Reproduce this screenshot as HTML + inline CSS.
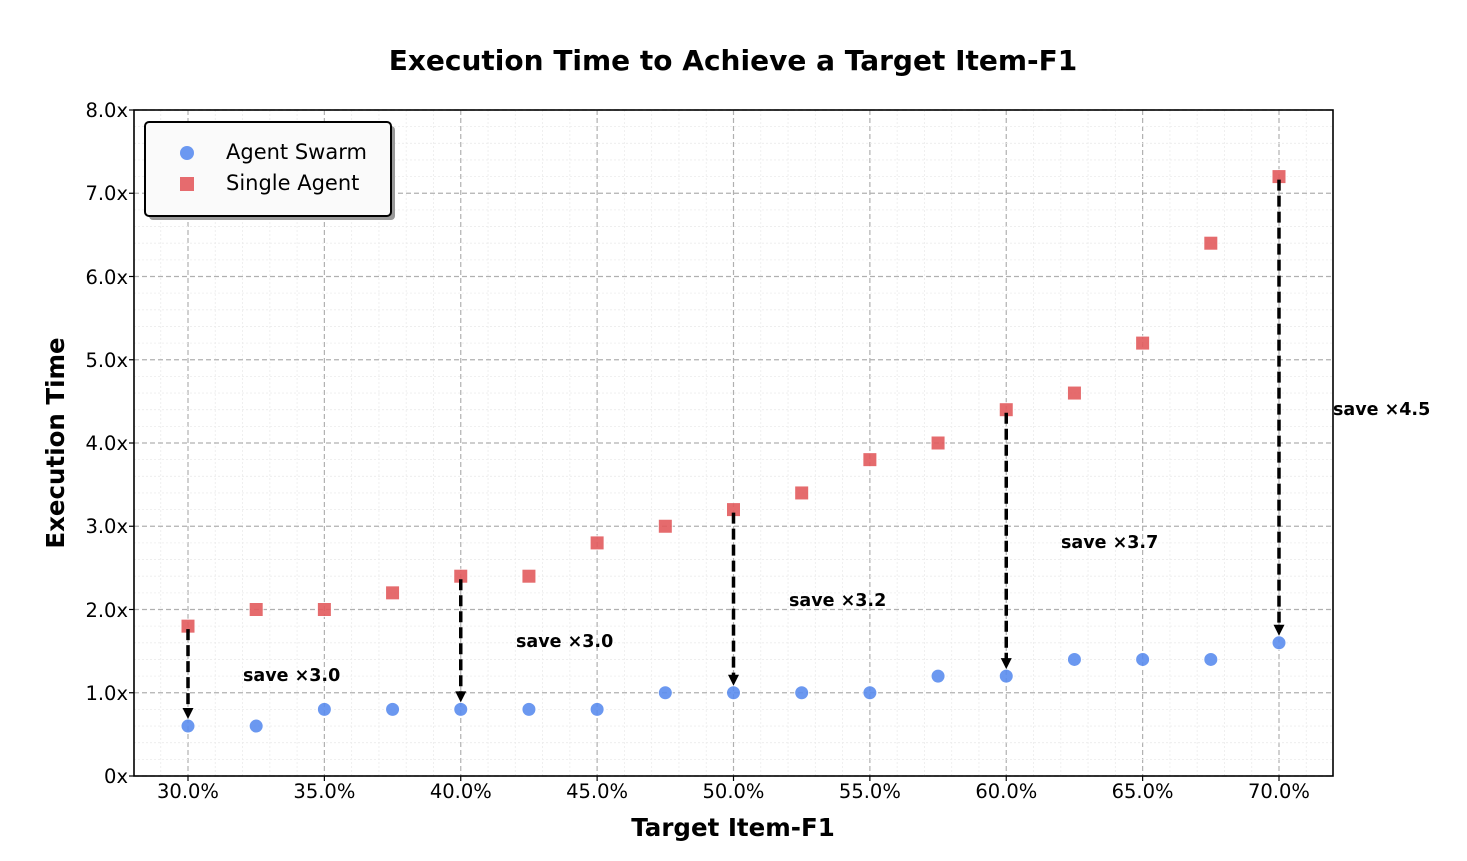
<!DOCTYPE html>
<html><head><meta charset="utf-8"><style>
html,body{margin:0;padding:0;background:#fff;}
svg{display:block;font-family:"DejaVu Sans","Liberation Sans",sans-serif;}
</style></head><body>
<svg id="s" width="1467" height="861" xmlns="http://www.w3.org/2000/svg">
<rect width="1467" height="861" fill="#fff"/>
<g id="grid"></g>
<g id="pts"></g>
<g id="arr"></g>
<rect x="134" y="110" width="1199" height="666" fill="none" stroke="#000" stroke-width="1.6"/>
<g id="ticks"></g>
<text x="733" y="70" text-anchor="middle" font-size="28" font-weight="bold">Execution Time to Achieve a Target Item-F1</text>
<text x="733" y="836" text-anchor="middle" font-size="24.5" font-weight="bold">Target Item-F1</text>
<text transform="translate(64,443) rotate(-90)" text-anchor="middle" font-size="24.5" font-weight="bold">Execution Time</text>
<g font-size="19.5" text-anchor="middle">
<text x="188" y="798">30.0%</text><text x="324.4" y="798">35.0%</text><text x="460.8" y="798">40.0%</text><text x="597.1" y="798">45.0%</text><text x="733.5" y="798">50.0%</text><text x="869.9" y="798">55.0%</text><text x="1006.3" y="798">60.0%</text><text x="1142.6" y="798">65.0%</text><text x="1279" y="798">70.0%</text>
</g>
<g font-size="19.5" text-anchor="end">
<text x="128" y="783">0x</text><text x="128" y="700">1.0x</text><text x="128" y="617">2.0x</text><text x="128" y="533">3.0x</text><text x="128" y="450">4.0x</text><text x="128" y="367">5.0x</text><text x="128" y="284">6.0x</text><text x="128" y="200">7.0x</text><text x="128" y="117">8.0x</text>
</g>
<g font-size="17.5" font-weight="bold">
<text x="243" y="681">save ×3.0</text>
<text x="516" y="647">save ×3.0</text>
<text x="789" y="606">save ×3.2</text>
<text x="1061" y="548">save ×3.7</text>
<text x="1333" y="415">save ×4.5</text>
</g>
<rect x="149" y="126" width="246" height="94" rx="4" fill="#999"/>
<rect x="145" y="122" width="246" height="94" rx="4" fill="#fafafa" stroke="#000" stroke-width="2"/>
<circle cx="187" cy="153" r="7" fill="#5b8def" opacity="0.9"/>
<rect x="180" y="177" width="14" height="14" fill="#e35b5e" opacity="0.9"/>
<text x="226" y="159" font-size="21">Agent Swarm</text>
<text x="226" y="190" font-size="21">Single Agent</text>
</svg>
<script>
const NS="http://www.w3.org/2000/svg";
function X(p){return 188+(p-30)*27.275;}
function Y(v){return 776-v*83.25;}
function el(t,a,p){const e=document.createElementNS(NS,t);for(const k in a)e.setAttribute(k,a[k]);document.getElementById(p).appendChild(e);return e;}
for(let p=28;p<=72;p+=1){const x=X(p);if(x<134||x>1333)continue;const maj=(p%5===0);
 el('line',{x1:x,x2:x,y1:110,y2:776,stroke:maj?'#b0b0b0':'#ececec','stroke-width':maj?1.2:0.8,'stroke-dasharray':maj?'5,3':'2,2'},'grid');
 if(maj)el('line',{x1:x,x2:x,y1:776,y2:781,stroke:'#000','stroke-width':1.2},'ticks');}
for(let i=0;i<=40;i++){const v=i*0.2;const y=Y(v);const maj=(i%5===0);
 el('line',{x1:134,x2:1333,y1:y,y2:y,stroke:maj?'#b0b0b0':'#ececec','stroke-width':maj?1.2:0.8,'stroke-dasharray':maj?'5,3':'2,2'},'grid');
 if(maj)el('line',{x1:129,x2:134,y1:y,y2:y,stroke:'#000','stroke-width':1.2},'ticks');}
const sw=[0.6,0.6,0.8,0.8,0.8,0.8,0.8,1.0,1.0,1.0,1.0,1.2,1.2,1.4,1.4,1.4,1.6];
const si=[1.8,2.0,2.0,2.2,2.4,2.4,2.8,3.0,3.2,3.4,3.8,4.0,4.4,4.6,5.2,6.4,7.2];
for(let i=0;i<17;i++){const x=X(30+2.5*i);
 el('circle',{cx:x,cy:Y(sw[i]),r:7,fill:'#5b8def',opacity:0.9,stroke:'#fff','stroke-width':1},'pts');
 el('rect',{x:x-7,y:Y(si[i])-7,width:14,height:14,fill:'#e35b5e',opacity:0.9,stroke:'#fff','stroke-width':1},'pts');}
[[30,1.8,0.6],[40,2.4,0.8],[50,3.2,1.0],[60,4.4,1.2],[70,7.2,1.6]].forEach(([p,a,b])=>{const x=X(p);const y1=Y(a)+3,y2=Y(b)-7;
 el('line',{x1:x,x2:x,y1:y1,y2:y2-7,stroke:'#000','stroke-width':3.5,'stroke-dasharray':'11,5'},'arr');
 el('polygon',{points:`${x-5.5},${y2-11} ${x+5.5},${y2-11} ${x},${y2}`,fill:'#000'},'arr');});
</script>
</body></html>
